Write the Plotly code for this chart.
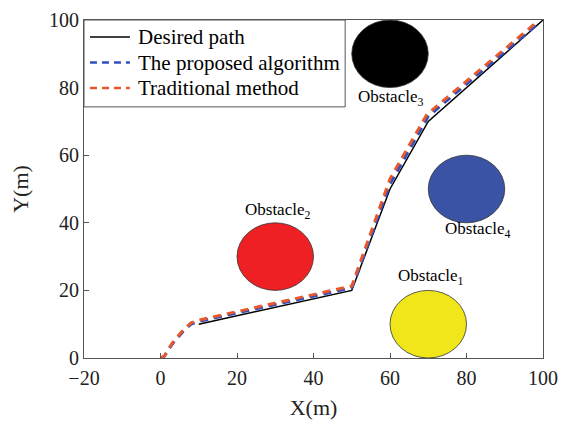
import plotly.graph_objects as go

# Desired path
desired_x = [10, 50, 60, 70, 100]
desired_y = [10, 20, 50, 70, 100]
# The proposed algorithm
proposed_x = [0, 1, 3, 6, 8, 10, 50, 51, 55, 60, 70, 99]
proposed_y = [0, 0.5, 4, 8, 10, 10.8, 20.8, 23.5, 36, 51.5, 71.5, 99.2]
# Traditional method
trad_x = [0, 1, 3, 6, 8, 10, 50, 51, 55, 60, 69.6, 98.6]
trad_y = [0, 0.6, 4.3, 8.4, 10.4, 11.2, 21.3, 24.5, 37, 53, 72, 99.6]

series_names = ["Desired path", "The proposed algorithm", "Traditional method"]
series_colors = ["black", "#2E4FC0", "#E8582A"]
series_widths = [1.5, 3, 3]
series_dash = ["solid", "8px,6px", "8px,6px"]

# Obstacles
obs_names = ["Obstacle<sub>1</sub>", "Obstacle<sub>2</sub>", "Obstacle<sub>3</sub>", "Obstacle<sub>4</sub>"]
obs_cx = [70, 30, 60, 80]
obs_cy = [10, 30, 90, 50]
obs_r = [10, 10, 10, 10]
obs_colors = ["#F0E61A", "#EE2024", "#000000", "#3A53A4"]
label_x = [70.5, 30.5, 60, 83]
label_y = [24, 43.5, 77, 38]

font_family = "Liberation Serif"

fig = go.Figure()
for xs, ys, nm, c, w, d in zip([desired_x, proposed_x, trad_x], [desired_y, proposed_y, trad_y],
                               series_names, series_colors, series_widths, series_dash):
    fig.add_trace(go.Scatter(x=xs, y=ys, mode="lines", name=nm, showlegend=False,
                             line=dict(color=c, width=w, dash=d)))

for cx, cy, r, c in zip(obs_cx, obs_cy, obs_r, obs_colors):
    fig.add_shape(type="circle", xref="x", yref="y", x0=cx - r, x1=cx + r, y0=cy - r, y1=cy + r,
                  fillcolor=c, line=dict(color="#333333", width=0.8), layer="below")

for name, lx, ly in zip(obs_names, label_x, label_y):
    fig.add_annotation(x=lx, y=ly, text=name, showarrow=False,
                       font=dict(family=font_family, size=17, color="black"))

# Legend box drawn manually (paper coordinates)
fig.add_shape(type="rect", xref="paper", yref="paper", x0=0.0, x1=0.569, y0=0.743, y1=1.0,
              fillcolor="white", line=dict(color="#555555", width=1), layer="above")
row_y = [0.950, 0.874, 0.799]
for ry, nm, c, w, d in zip(row_y, series_names, series_colors, series_widths, series_dash):
    fig.add_shape(type="line", xref="paper", yref="paper", x0=0.013, x1=0.100, y0=ry, y1=ry,
                  line=dict(color=c, width=w if w < 2 else 2.5, dash=d if d == "solid" else "7px,5px"),
                  layer="above")
    fig.add_annotation(xref="paper", yref="paper", x=0.113, y=ry, text=nm, showarrow=False,
                       xanchor="left", yanchor="middle",
                       font=dict(family=font_family, size=21, color="black"))

fig.update_layout(
    width=561, height=428,
    margin=dict(l=84, r=18, t=20, b=70),
    paper_bgcolor="white", plot_bgcolor="white",
    font=dict(family=font_family, size=20, color="#222222"),
    showlegend=False,
)
fig.update_xaxes(range=[-20, 100], tickvals=[-20, 0, 20, 40, 60, 80, 100],
                 ticktext=["\u221220", "0", "20", "40", "60", "80", "100"],
                 ticks="inside", ticklen=5, tickcolor="#555555",
                 showline=True, linecolor="#555555", linewidth=1, mirror=True,
                 showgrid=False, zeroline=False, automargin=False, ticklabelstandoff=2,
                 title=dict(text="X(m)", font=dict(size=22), standoff=11))
fig.update_yaxes(range=[0, 100], tickvals=[0, 20, 40, 60, 80, 100],
                 ticks="inside", ticklen=5, tickcolor="#555555",
                 showline=True, linecolor="#555555", linewidth=1, mirror=True,
                 showgrid=False, zeroline=False, automargin=False,
                 title=dict(text="Y(m)", font=dict(size=22), standoff=14))

fig.write_html("out.html")
